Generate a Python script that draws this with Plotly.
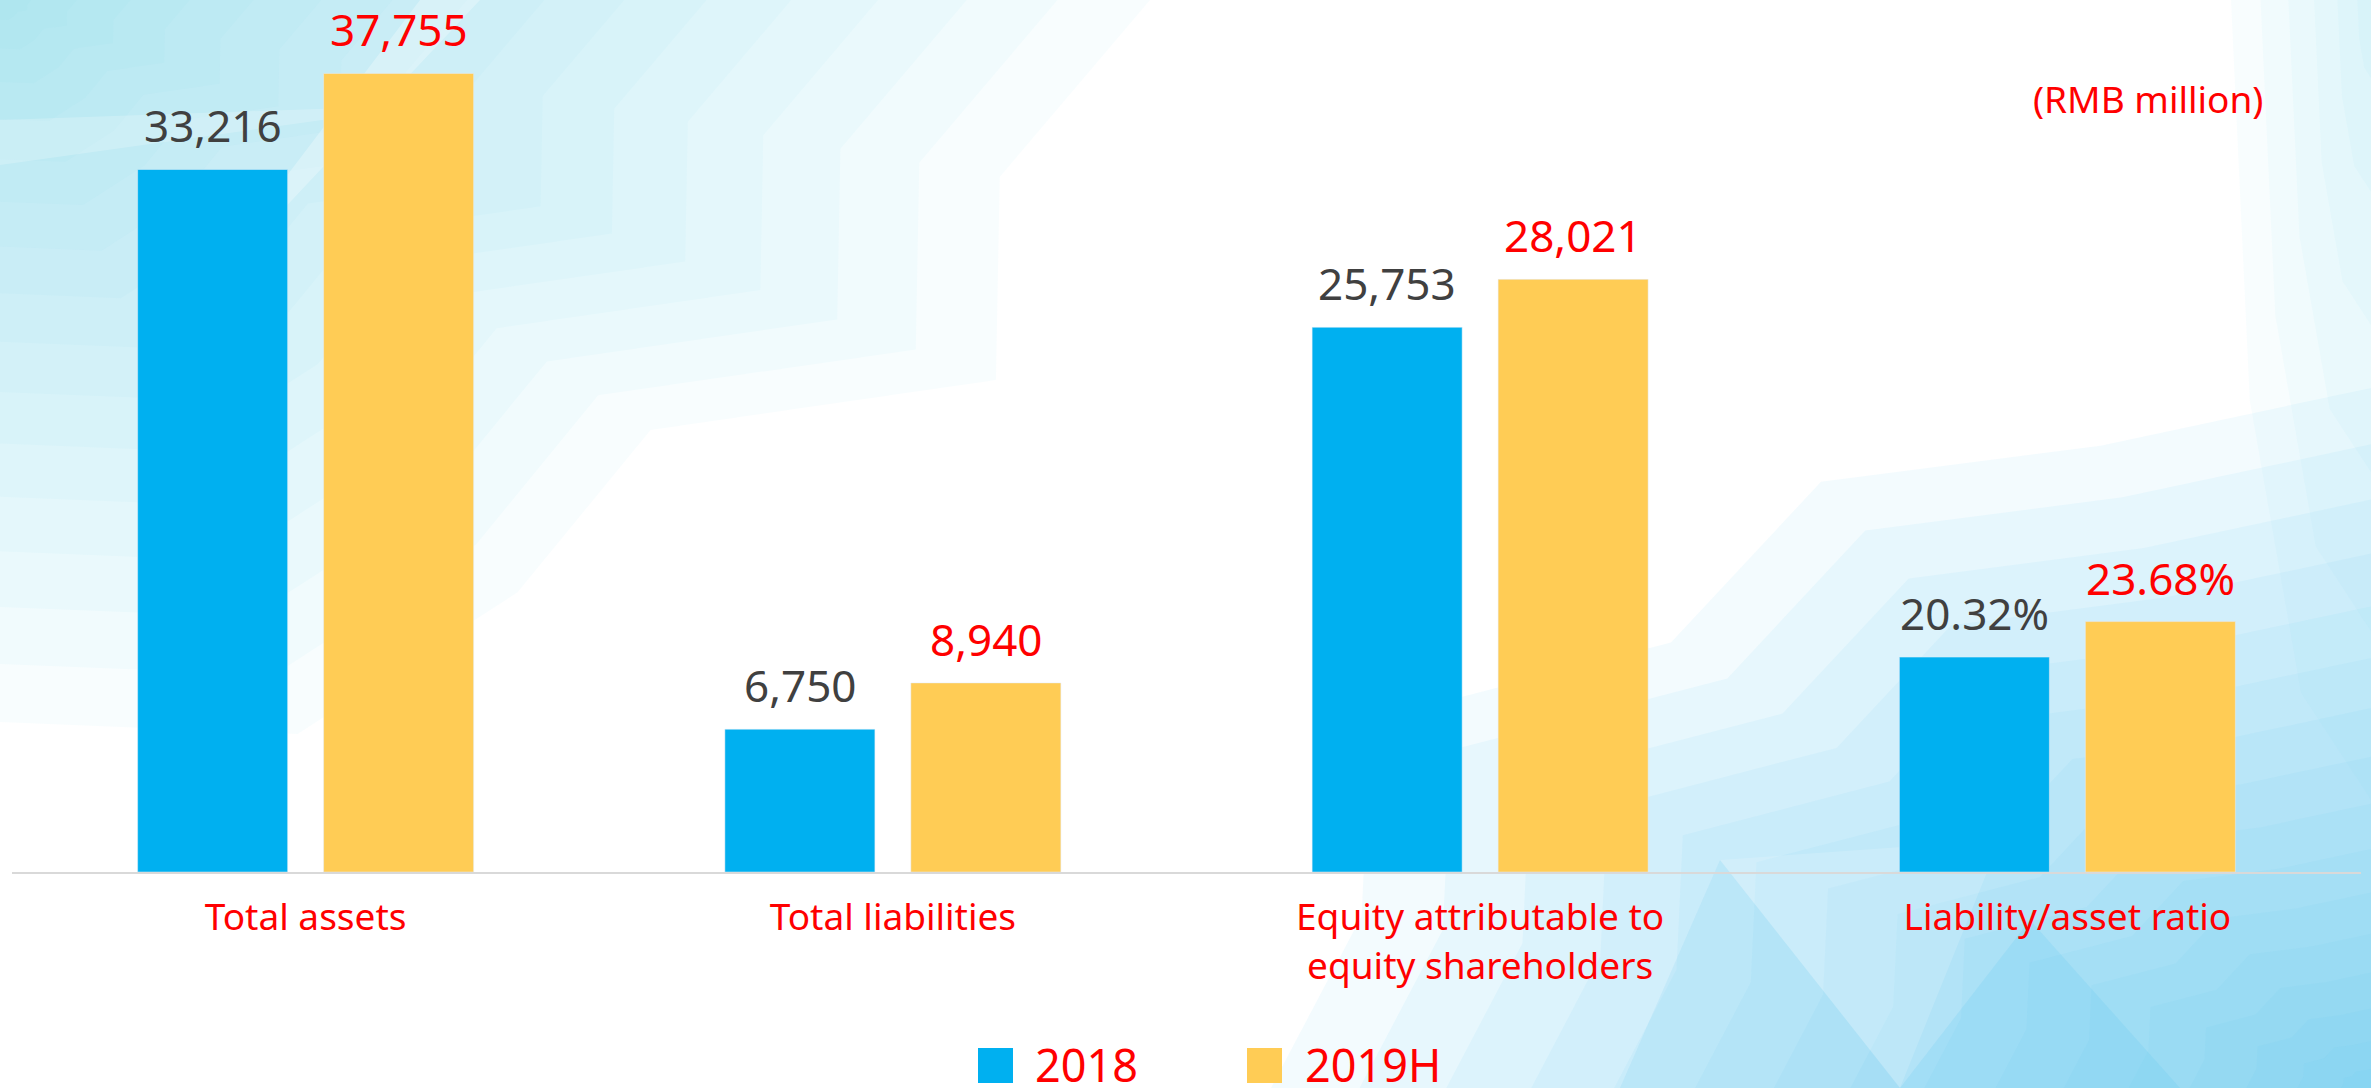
import math
import plotly.graph_objects as go

# ---------------- data ----------------
categories = ["Total assets", "Total liabilities",
              "Equity attributable to<br>equity shareholders", "Liability/asset ratio"]
amount_categories = categories[:3]
ratio_categories = categories[3:]
series_names = ["2018", "2019H"]
values_2018 = [33216, 6750, 25753]
values_2019h = [37755, 8940, 28021]
ratio_2018 = [20.32]
ratio_2019h = [23.68]
unit_label = "(RMB million)"

# ---------------- style ----------------
FONT = "Noto Sans"
BLUE = "#00B0F0"
YELLOW = "#FFCC55"
RED = "#FF0000"
DARK = "#404040"
W, H = 2371, 1088
L, R, T, B = 12, 2361, 26, 872          # plot area in pixels
Y_MAX = 40000
Y2_MAX = Y_MAX / 500                     # ratio axis scaled as in the source
BAR_SHIFT = 93                           # px from category centre to each bar centre


def P(x, y):
    return (x - L) / (R - L), (B - y) / (B - T)


def poly(pts, color):
    segs = []
    for i, (x, y) in enumerate(pts):
        px, py = P(x, y)
        segs.append(("M" if i == 0 else "L") + f"{px:.5f},{py:.5f}")
    return dict(type="path", xref="paper", yref="paper", path=" ".join(segs) + " Z",
                fillcolor=color, line=dict(width=0), layer="below")


def corner_glow(cx, cy, rx, ry, a0, a1, n, alpha, rgb, wobble):
    """nested faceted quarter-ellipses fading out from a corner"""
    out = []
    for k in range(n):
        s = (1 - k / n) ** 1.3
        pts = [(cx, cy)]
        m = len(wobble)
        for j in range(m):
            t = a0 + (a1 - a0) * j / (m - 1)
            r = s * wobble[j]
            pts.append((cx + rx * r * math.cos(t), cy + ry * r * math.sin(t)))
        out.append(poly(pts, f"rgba({rgb},{alpha})"))
    return out


fig = go.Figure()
fig.add_trace(go.Bar(x=amount_categories, y=values_2018, name=series_names[0],
                     marker_color=BLUE, yaxis="y", showlegend=False))
fig.add_trace(go.Bar(x=amount_categories, y=values_2019h, name=series_names[1],
                     marker_color=YELLOW, yaxis="y", showlegend=False))
fig.add_trace(go.Bar(x=ratio_categories, y=ratio_2018, name=series_names[0],
                     marker_color=BLUE, yaxis="y2", showlegend=False))
fig.add_trace(go.Bar(x=ratio_categories, y=ratio_2019h, name=series_names[1],
                     marker_color=YELLOW, yaxis="y2", showlegend=False))

annotations = []
label_font = 44
for cat, v1, v2 in zip(amount_categories, values_2018, values_2019h):
    annotations.append(dict(x=cat, y=v1, xref="x", yref="y", text=f"{v1:,}", showarrow=False,
                            xshift=-BAR_SHIFT, yshift=12, yanchor="bottom",
                            font=dict(family=FONT, size=label_font, color=DARK)))
    annotations.append(dict(x=cat, y=v2, xref="x", yref="y", text=f"{v2:,}", showarrow=False,
                            xshift=BAR_SHIFT, yshift=12, yanchor="bottom",
                            font=dict(family=FONT, size=label_font, color=RED)))
for cat, v1, v2 in zip(ratio_categories, ratio_2018, ratio_2019h):
    annotations.append(dict(x=cat, y=v1, xref="x", yref="y2", text=f"{v1:.2f}%", showarrow=False,
                            xshift=-BAR_SHIFT, yshift=12, yanchor="bottom",
                            font=dict(family=FONT, size=label_font, color=DARK)))
    annotations.append(dict(x=cat, y=v2, xref="x", yref="y2", text=f"{v2:.2f}%", showarrow=False,
                            xshift=BAR_SHIFT, yshift=12, yanchor="bottom",
                            font=dict(family=FONT, size=label_font, color=RED)))

# unit label
ux, uy = P(2265, 98.6)
annotations.append(dict(x=ux, y=uy, xref="paper", yref="paper", text=unit_label,
                        showarrow=False, xanchor="right", yanchor="middle",
                        font=dict(family=FONT, size=37, color=RED)))

# custom legend (large squares like the source)
shapes = []
legend_items = [(series_names[0], BLUE, 978, 1033), (series_names[1], YELLOW, 1247, 1303)]
for name, col, sx, tx in legend_items:
    x0, y0 = P(sx, 1083)
    x1, y1 = P(sx + 35, 1048)
    shapes.append(dict(type="rect", xref="paper", yref="paper", x0=x0, y0=y0, x1=x1, y1=y1,
                       fillcolor=col, line=dict(width=0)))
    lx, ly = P(tx, 1064)
    annotations.append(dict(x=lx, y=ly, xref="paper", yref="paper", text=name, showarrow=False,
                            xanchor="left", yanchor="middle",
                            font=dict(family=FONT, size=45, color=RED)))

# decorative background (soft light-cyan faceted glow in corners)
bg = []
bg += corner_glow(0, 0, 1150, 760, 0, math.pi / 2, 16, 0.055, "121,223,243",
                  [1.0, 0.9, 1.0, 0.8, 0.9, 1.0, 0.95])
bg += corner_glow(W, H, 1100, 700, math.pi, 1.5 * math.pi, 16, 0.075, "95,208,240",
                  [1.0, 0.95, 1.05, 0.9, 1.0, 0.95, 1.0])
bg += corner_glow(W, 0, 140, 800, math.pi / 2, math.pi, 6, 0.05, "121,223,243",
                  [1.0, 1.0, 1.0, 1.0])
# facets
bg.append(poly([(420, 0), (480, 0), (170, 330)], "rgba(255,255,255,0.28)"))
bg.append(poly([(0, 120), (430, 105), (0, 165)], "rgba(255,255,255,0.20)"))
bg.append(poly([(1620, 1088), (1720, 860), (1900, 1088)], "rgba(70,190,240,0.10)"))
bg.append(poly([(1900, 1088), (2030, 920), (2180, 1088)], "rgba(70,190,240,0.14)"))
bg.append(poly([(1720, 860), (2000, 840), (1900, 1088)], "rgba(255,255,255,0.15)"))

fig.update_layout(
    width=W, height=H, autosize=False,
    margin=dict(l=L, r=W - R, t=T, b=H - B, pad=0),
    paper_bgcolor="white", plot_bgcolor="rgba(0,0,0,0)",
    barmode="group", bargap=0.3666, bargroupgap=0.1935,
    font=dict(family=FONT),
    xaxis=dict(type="category", categoryorder="array", categoryarray=categories,
               range=[-0.5, 3.5], showline=True, linecolor="#D9D9D9", linewidth=2,
               showgrid=False, zeroline=False, ticks="", ticklabelstandoff=12,
               tickfont=dict(family=FONT, size=37, color=RED)),
    yaxis=dict(range=[0, Y_MAX], visible=False, showgrid=False, zeroline=False),
    yaxis2=dict(range=[0, Y2_MAX], overlaying="y", side="right", visible=False,
                showgrid=False, zeroline=False),
    showlegend=False,
    annotations=annotations,
    shapes=bg + shapes,
)

fig.write_html(
    "out.html",
    config={"displayModeBar": False},
    post_script="document.body.style.margin='0';document.body.style.overflow='hidden';",
)
